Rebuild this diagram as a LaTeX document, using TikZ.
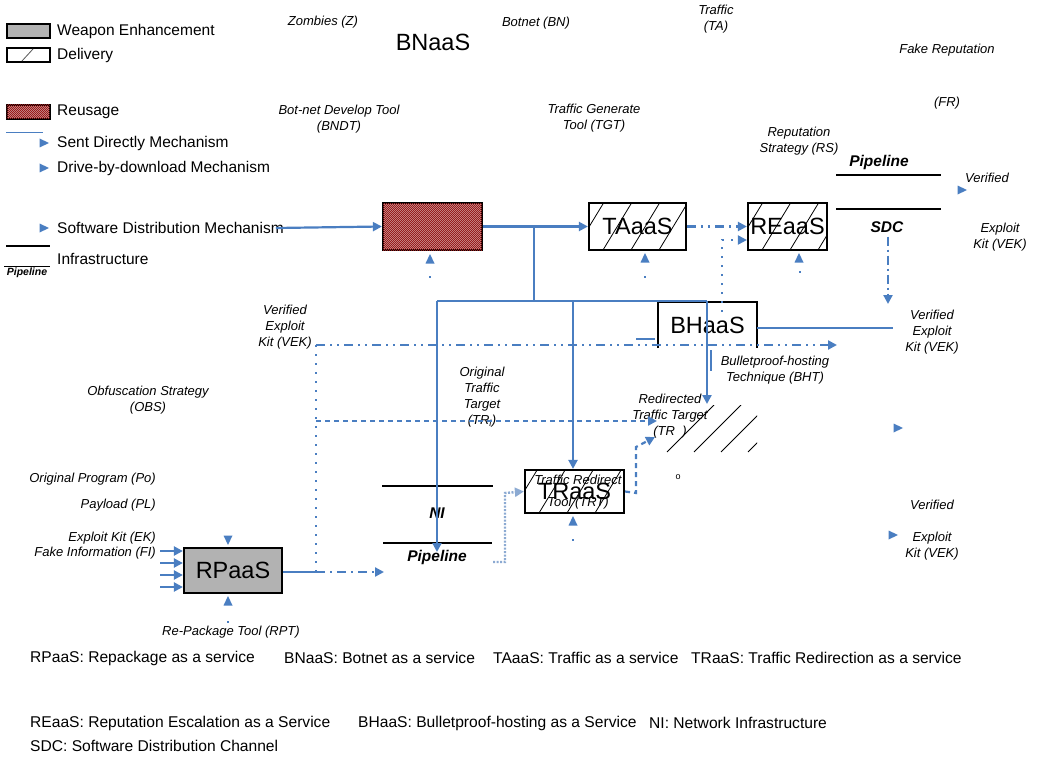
\documentclass[tikz,border=0pt]{standalone}
\usepackage{fontspec}
\setmainfont{Liberation Sans}
\usetikzlibrary{arrows.meta,patterns}
\definecolor{lineblue}{RGB}{74,126,193}
\definecolor{paleblue}{RGB}{140,170,210}
\definecolor{boxgray}{RGB}{178,178,178}
\definecolor{reusered}{RGB}{150,28,28}
% fine two-tone checker used for the reuse fill
\pgfdeclarepatternformonly{finecheck}{\pgfpointorigin}{\pgfqpoint{2.4pt}{2.4pt}}{\pgfqpoint{2.4pt}{2.4pt}}{%
  \pgfpathrectangle{\pgfpointorigin}{\pgfqpoint{1.2pt}{1.2pt}}%
  \pgfpathrectangle{\pgfqpoint{1.2pt}{1.2pt}}{\pgfqpoint{1.2pt}{1.2pt}}%
  \pgfusepath{fill}}
\tikzset{
  lbl/.style={font=\fontsize{13}{16}\selectfont\itshape, align=center, inner sep=0pt},
  legtxt/.style={font=\fontsize{15.5}{18}\selectfont, anchor=west, inner sep=0pt},
  foot/.style={font=\fontsize{15.6}{19}\selectfont, anchor=west, inner sep=0pt},
  bigtxt/.style={font=\fontsize{23.5}{28}\selectfont, inner sep=0pt},
  bolditl/.style={font=\fontsize{15.5}{18}\selectfont\bfseries\itshape, inner sep=0pt},
  svc/.style={draw=black, line width=2.2pt, inner sep=0pt, font=\fontsize{23.5}{28}\selectfont},
  hatch/.style={path picture={
      \foreach \k in {-70,-42,...,130}
        \draw[black, line width=0.8pt]
          ([xshift=\k pt]path picture bounding box.south west) -- ++(34pt,56pt);}},
  reuse/.style={fill=white!50!reusered, postaction={pattern=finecheck, pattern color=reusered}},
  sent/.style={lineblue, line width=2.2pt},
  tip/.style={-{Triangle[length=9pt,width=9pt]}},
  ddot/.style={lineblue, line width=2.2pt, dash pattern=on 9pt off 5pt on 2pt off 5pt on 2pt off 5pt},
  spdot/.style={lineblue, line width=2pt, dash pattern=on 2pt off 7pt},
  dsh/.style={lineblue, line width=2.2pt, dash pattern=on 5pt off 4pt},
  infra/.style={black, line width=1.8pt},
  triR/.pic={\fill[lineblue] (-4.5,-4.5) -- (5,0) -- (-4.5,4.5) -- cycle;},
  triU/.pic={\fill[lineblue] (-4.5,4.5) -- (0,-5) -- (4.5,4.5) -- cycle;},
  triD/.pic={\fill[lineblue] (-4.5,-4.5) -- (0,5) -- (4.5,-4.5) -- cycle;},
  dot/.pic={\fill[lineblue] (-1.2,-1.2) rectangle (1.2,1.2);}
}
\begin{document}
\begin{tikzpicture}[x=1pt,y=-1pt]
\useasboundingbox (0,0) rectangle (1039,757);

% ---------- legend ----------
\node[draw=black, line width=2pt, fill=boxgray, minimum width=43pt, minimum height=14pt, inner sep=0pt] (lgWE) at (28,31) {};
\node[legtxt] (tWE) at (57,31) {Weapon Enhancement};
\node[draw=black, line width=2pt, minimum width=43pt, minimum height=14pt, inner sep=0pt] (lgDL) at (28,55) {};
\draw[gray!70!black, line width=0.8pt] (22,61) -- (33,49);
\node[legtxt] (tDL) at (57,55) {Delivery};
\node[draw=black, line width=2pt, reuse, minimum width=43pt, minimum height=14pt, inner sep=0pt] (lgRU) at (28,112) {};
\node[legtxt] (tRU) at (57,112) {Reusage};
\draw[lineblue, line width=1pt] (6,133) -- (43,133);
\pic at (44,143) {triR};
\node[legtxt] (tSD) at (57,143) {Sent Directly Mechanism};
\pic at (44,168) {triR};
\node[legtxt] (tDD) at (57,168) {Drive-by-download Mechanism};
\pic at (44,228) {triR};
\node[legtxt] (tSW) at (57,228) {Software Distribution Mechanism};
\draw[infra] (6,246) -- (50,246);
\node[legtxt] (tIN) at (57,259) {Infrastructure};
\draw[black, line width=1pt] (4,266) -- (50,266);
\node[font=\fontsize{10.5}{12}\selectfont\bfseries\itshape, inner sep=0pt] (tPL) at (27,273) {Pipeline};

% ---------- service boxes ----------
\node[svc, reuse, minimum width=99pt, minimum height=47pt] (ru) at (432.5,226.5) {};
\node[svc, hatch, minimum width=97pt, minimum height=47pt] (ta) at (637.5,226.5) {TAaaS};
\node[svc, hatch, minimum width=79pt, minimum height=47pt] (re) at (787.5,226.5) {REaaS};
\node[inner sep=0pt, minimum width=99pt, minimum height=46pt, font=\fontsize{23.5}{28}\selectfont] (bh) at (707.5,325) {BHaaS};
\draw[black, line width=2.2pt] (bh.south west) -- (bh.north west) -- (bh.north east) -- (bh.south east);
\node[svc, hatch, minimum width=99pt, minimum height=43pt] (tr) at (574.5,491.5) {TRaaS};
\node[svc, fill=boxgray, minimum width=98pt, minimum height=45pt] (rp) at (233,570.5) {RPaaS};
\node[bigtxt] (bn) at (433,42) {BNaaS};

% ---------- labels ----------
\node[lbl] (zz) at (323,22) {Zombies (Z)};
\node[lbl] (bnl) at (536,23) {Botnet (BN)};
\node[lbl] (tal) at (716,19) {Traffic\\(TA)};
\node[lbl] (fr1) at (947,50) {Fake Reputation};
\node[lbl] (fr2) at (947,103) {(FR)};
\node[lbl] (bndt) at (339,119) {Bot-net Develop Tool\\(BNDT)};
\node[lbl] (tgt) at (594,118) {Traffic Generate\\Tool (TGT)};
\node[lbl] (rs) at (799,141) {Reputation\\Strategy (RS)};
\node[bolditl] (pp1) at (879,162) {Pipeline};
\node[lbl] (ver1) at (987,178) {Verified};
\node[lbl] (vek1) at (1000,237) {Exploit\\Kit (VEK)};
\node[bolditl] (sdc) at (887,227) {SDC};
\node[lbl] (vekL) at (285,327) {Verified\\Exploit\\Kit (VEK)};
\node[lbl] (vekR) at (932,332) {Verified\\Exploit\\Kit (VEK)};
\node[lbl] (bht) at (775,370) {Bulletproof-hosting\\Technique (BHT)};
\node[lbl] (obs) at (148,400) {Obfuscation Strategy\\(OBS)};
\node[lbl] (otr) at (482,397) {Original\\Traffic\\Target\\(TR\textsubscript{i})};
\node[lbl] (rtr) at (670,416) {Redirected\\Traffic Target\\(TR\ \ )};
\node[lbl] (trt1) at (578,480) {Traffic Redirect};
\node[lbl] (trt2) at (578,503) {Tool (TRT)};
\node[bolditl] (ni) at (437,513) {NI};
\node[bolditl] (pp2) at (437,557) {Pipeline};
\node[lbl, anchor=east] (po) at (156,479) {Original Program (Po)};
\node[lbl, anchor=east] (pl) at (156,505) {Payload (PL)};
\node[lbl, anchor=east] (ek) at (156,538) {Exploit Kit (EK)};
\node[lbl, anchor=east] (fi) at (156,553) {Fake Information (FI)};
\node[lbl] (rpt) at (231,632) {Re-Package Tool (RPT)};
\node[lbl] (ver3) at (932,505) {Verified};
\node[lbl] (vek3) at (932,546) {Exploit\\Kit (VEK)};
\node[font=\fontsize{9}{10}\selectfont, inner sep=0pt] (oo) at (678,477) {o};

% ---------- infrastructure lines ----------
\draw[infra] (836,175) -- (941,175);
\draw[infra] (836,209) -- (941,209);
\draw[black, line width=1.3pt] (382,486) -- (493,486);
\draw[black, line width=1.3pt] (383,543) -- (492,543);

% ---------- hatched target area ----------
\begin{scope}
  \clip (663,405) rectangle (757,452);
  \foreach \k in {4,31,...,112}
    \draw[black, line width=0.8pt] (663+\k,452) -- ++(47,-47);
\end{scope}

% ---------- sent-directly connectors ----------
\coordinate (j0) at (534,227);
\coordinate (j1) at (534,301);
\coordinate (hL) at (437,301);
\coordinate (hM) at (573,301);
\coordinate (hR) at (707,301);
\coordinate (niT) at (437,552);
\coordinate (rtT) at (707,404);
\draw[sent, tip] ([xshift=-8pt]tSW.east) -- (ru.west);
\draw[sent, tip] (ru.east) -- (ta.west);
\draw[sent] (j0) -- (j1);
\draw[sent] (hL) -- (hR);
\draw[sent, tip] (hL) -- (niT);
\draw[sent, tip] (hM) -- (hM |- tr.north);
\draw[sent, tip] (hR) -- (rtT);
\coordinate (bhE) at (893,328);
\draw[sent] (bh.east |- bhE) -- (bhE);
\draw[sent, line width=1.6pt] (636,339) -- (655,339);
\draw[sent, line width=1.6pt] (711,350) -- (711,371);
\foreach \yy in {551,563,575,587}
  \draw[sent, tip] (160,\yy) -- (rp.west |- 0,\yy);

% ---------- dotted / dashed connectors ----------
\draw[ddot, tip] (ta.east) -- (re.west);
\coordinate (vd) at (722,312);
\draw[spdot, tip] (vd) -- (722,240) -- (re.west |- 0,240);
\coordinate (sdcT) at (888,304);
\draw[ddot, dash pattern=on 9pt off 4pt on 2pt off 4pt, tip] (sdc.south) ++(1,4) -- (sdcT);
\coordinate (vL) at (316,345);
\coordinate (vE) at (837,345);
\draw[ddot, tip] (vL) -- (vE);
\coordinate (vB) at (316,572);
\draw[spdot] (vL) -- (vB);
\coordinate (dE) at (657,421);
\draw[dsh, tip] (316,421) -- (dE);
\coordinate (rpA) at (384,572);
\draw[sent] (rp.east |- vB) -- (vB);
\draw[ddot, dash pattern=on 9pt off 5pt on 2pt off 5pt, tip] (vB) -- (rpA);
\draw[paleblue, line width=2.4pt, dash pattern=on 2pt off 1.5pt, tip] (493,562) -- (505,562) -- (505,493) -- (tr.west);
\coordinate (trU) at (655,437);
\draw[dsh, tip] (tr.east) -- (636,493) -- (636,447) -- (trU);

% ---------- free-standing markers ----------
\pic at (430,259) {triU}; \pic at (430,277) {dot};
\pic at (645,258) {triU}; \pic at (645,277) {dot};
\pic at (799,258) {triU}; \pic at (800,272) {dot};
\pic at (573,521) {triU}; \pic at (573,540) {dot};
\pic at (228,540) {triD};
\pic at (228,601) {triU}; \pic at (228,622) {dot};
\pic at (962,190) {triR};
\pic at (898,428) {triR};
\pic at (893,535) {triR};

% ---------- glossary ----------
\node[foot] (g1) at (30,658) {RPaaS: Repackage as a service};
\node[foot] (g2) at (284,658) {BNaaS: Botnet as a service};
\node[foot] (g3) at (493,658) {TAaaS: Traffic as a service};
\node[foot] (g4) at (691,658) {TRaaS: Traffic Redirection as a service};
\node[foot] (g5) at (30,723) {REaaS: Reputation Escalation as a Service};
\node[foot] (g6) at (358,723) {BHaaS: Bulletproof-hosting as a Service};
\node[foot] (g7) at (649,723) {NI: Network Infrastructure};
\node[foot] (g8) at (30,746) {SDC: Software Distribution Channel};
\end{tikzpicture}
\end{document}
